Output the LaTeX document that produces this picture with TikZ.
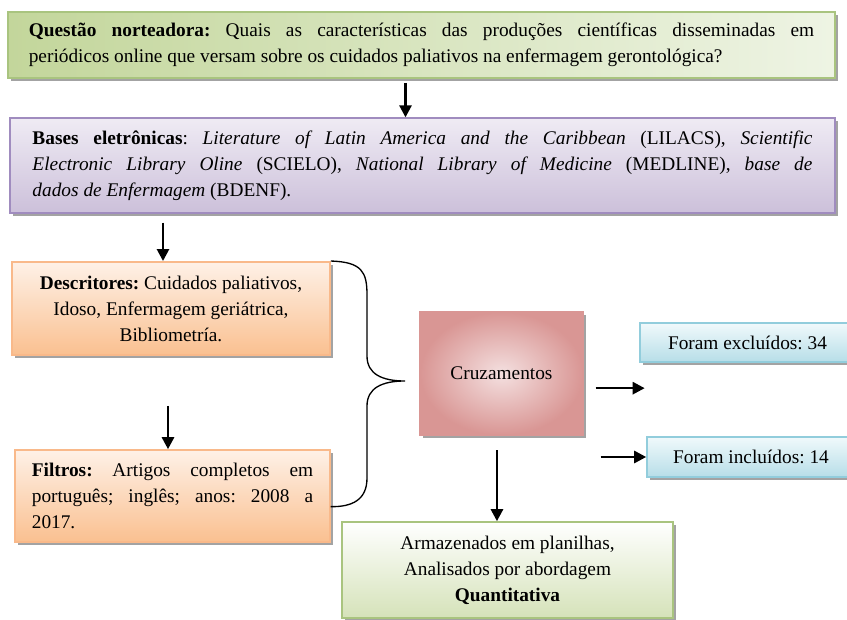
\documentclass[tikz,border=0pt]{standalone}
\usepackage{fontspec}
\setmainfont{Liberation Serif}
\usetikzlibrary{arrows.meta,calc,shadows}

\definecolor{verdeEsc}{HTML}{C3D69B}
\definecolor{verdeClaro}{HTML}{EEF4E4}
\definecolor{bordaVerde}{HTML}{A9C47F}
\definecolor{roxoEsc}{HTML}{CCC0DA}
\definecolor{roxoClaro}{HTML}{EFEBF4}
\definecolor{bordaRoxo}{HTML}{A08CBF}
\definecolor{laranjaEsc}{HTML}{FAC090}
\definecolor{laranjaClaro}{HTML}{FEF1E7}
\definecolor{bordaLaranja}{HTML}{F9B98A}
\definecolor{rosaEsc}{HTML}{D99694}
\definecolor{rosaClaro}{HTML}{F4E0E0}
\definecolor{azulEsc}{HTML}{B7DEE8}
\definecolor{azulClaro}{HTML}{F0F9FB}
\definecolor{bordaAzul}{HTML}{92CDDC}

\hyphenpenalty=10000
\tolerance=9999
\frenchspacing

\begin{document}
\begin{tikzpicture}[x=0.75pt, y=-0.75pt,
    caixa/.style={rectangle, draw, line width=1.2pt, font=\fontsize{14.5}{19.5}\selectfont,
        drop shadow={shadow xshift=2.2pt, shadow yshift=-2.2pt, fill=black!60, opacity=0.6}},
    seta/.style={-{Triangle[length=9pt,width=9pt]}, line width=2pt},
    chave/.style={line width=1pt}
]
    \useasboundingbox (0,0) rectangle (847,620);

    % Caixas
    \node[caixa, draw=bordaVerde, left color=verdeEsc, right color=verdeClaro, text width=589pt, inner xsep=15.6pt, minimum height=49.5pt, align=justify] (quest) at (421.5,45) {\textbf{Questão norteadora:} Quais as características das produções científicas disseminadas em\linebreak periódicos online que versam sobre os cuidados paliativos na enfermagem gerontológica?};
    \node[caixa, draw=bordaRoxo, top color=roxoClaro, bottom color=roxoEsc, text width=585pt, inner xsep=17pt, minimum height=71pt, align=justify] (bases) at (422.5,165.5) {\textbf{Bases eletrônicas}: \textit{Literature of Latin America and the Caribbean} (LILACS), \textit{Scientific}\linebreak \textit{Electronic Library Oline} (SCIELO), \textit{National Library of Medicine} (MEDLINE), \textit{base de}\linebreak \textit{dados de Enfermagem} (BDENF).};
    \node[caixa, draw=bordaLaranja, top color=laranjaClaro, bottom color=laranjaEsc, minimum width=238.5pt, minimum height=70pt, align=center] (desc) at (171,308.5) {\textbf{Descritores:} Cuidados paliativos,\\Idoso, Enfermagem geriátrica,\\Bibliometría.};
    \node[caixa, draw=bordaLaranja, top color=laranjaClaro, bottom color=laranjaEsc, text width=211pt, inner xsep=12.5pt, minimum height=69pt, align=justify] (filt) at (172.5,496) {\textbf{Filtros:} Artigos completos em português; inglês; anos: 2008 a 2017.};
    \node[caixa, draw=rosaEsc, shading=radial, inner color=rosaClaro, outer color=rosaEsc, minimum width=122pt, minimum height=92pt] (cruz) at (501.5,373.5) {Cruzamentos};
    \node[caixa, draw=bordaAzul, top color=azulClaro, bottom color=azulEsc, minimum width=161pt, minimum height=29pt] (excl) at (747.5,342.5) {Foram excluídos: 34};
    \node[caixa, draw=bordaAzul, top color=azulClaro, bottom color=azulEsc, minimum width=156pt, minimum height=30pt] (incl) at (751,457) {Foram incluídos: 14};
    \node[caixa, draw=bordaVerde, top color=white, bottom color=verdeEsc!70, minimum width=248pt, minimum height=72pt, align=center] (armaz) at (507.5,570) {Armazenados em planilhas,\\Analisados por abordagem\\\textbf{Quantitativa}};

    % Setas
    \draw[seta] ($(quest.south)+(-12pt,-3pt)$) -- ($(quest.south |- bases.north)+(-12pt,0)$);
    \draw[seta] ($(desc.north |- bases.south)+(-6pt,-6.75pt)$) -- ($(desc.north)+(-6pt,0)$);
    \draw[seta] ($(desc.south)+(-2.25pt,-37.5pt)$) -- ($(desc.south |- filt.north)+(-2.25pt,0)$);
    \draw[seta] ($(cruz.east)+(9pt,-11pt)$) -- ($(cruz.east -| excl.west)+(4pt,-11pt)$);
    \draw[seta] ($(cruz.east |- incl.west)+(12.75pt,0)$) -- (incl.west);
    \draw[seta] ($(cruz.south)+(-3.4pt,-11pt)$) -- ($(cruz.south |- armaz.north)+(-3.4pt,0)$);

    % Chave
    \coordinate (ponta) at (405,381);
    \draw[chave] (desc.north east) .. controls (362,262) and (367,272) .. (367,295) -- (367,356)
        .. controls (367,374) and (382,381) .. (ponta)
        .. controls (382,381) and (367,388) .. (367,406) -- (367,478)
        .. controls (367,500) and (352,507) .. ($(filt.east)+(0,-8pt)$);
\end{tikzpicture}
\end{document}
